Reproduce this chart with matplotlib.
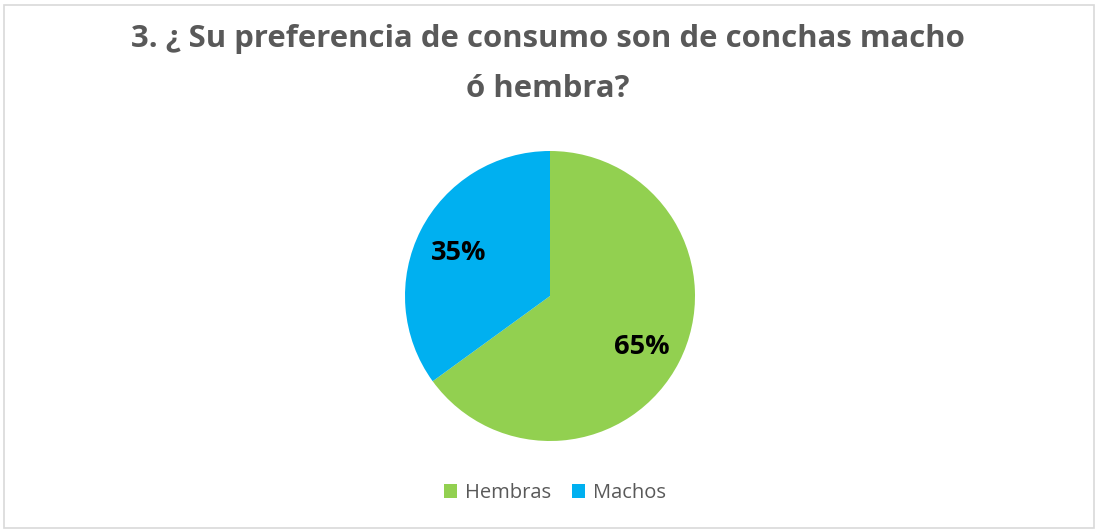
import matplotlib.pyplot as plt
from matplotlib.patches import Rectangle, Patch

categories = ['Hembras', 'Machos']
values = [65, 35]
colors = ['#92D050', '#00B0F0']
title_lines = ['3. ¿ Su preferencia de consumo son de conchas macho', 'ó hembra?']

W, H = 1096, 529
fig = plt.figure(figsize=(W / 100, H / 100), dpi=100)

# outer chart border
fig.patches.append(Rectangle((4 / W, 1 / H), 1090 / W, 523 / H, transform=fig.transFigure,
                             fill=False, edgecolor='#D9D9D9', linewidth=1.2))

for line, base in zip(title_lines, [47, 97]):
    fig.text(0.5, 1 - base / H, line, ha='center', va='baseline', fontsize=22.4,
             fontweight='bold', color='#595959', family='Open Sans')

r = 145
cx, cy = 550, 296
ax = fig.add_axes([(cx - r) / W, (H - cy - r) / H, 2 * r / W, 2 * r / H])
wedges, _, autotexts = ax.pie(values, colors=colors, startangle=90, counterclock=False,
                              autopct='%1.0f%%', pctdistance=0.71, radius=1,
                              wedgeprops=dict(linewidth=0))
for t in autotexts:
    t.set_fontsize(19.5)
    t.set_fontweight('bold')
    t.set_family('Open Sans')
    t.set_color('black')
    x, y = t.get_position()
    t.set_position((x, y - 4 / r))
ax.set_xlim(-1, 1)
ax.set_ylim(-1, 1)
ax.set_aspect('equal')
ax.axis('off')

handles = [Patch(facecolor=c, edgecolor='none') for c in colors]
fig.legend(handles, categories, loc='center', bbox_to_anchor=(555 / W, 1 - 493 / H), ncol=2,
           frameon=False, prop={'family': 'Open Sans', 'size': 14.5}, labelcolor='#595959',
           handlelength=0.65, handleheight=0.65, handletextpad=0.4, columnspacing=1.0)

fig.savefig('out.png', dpi=100)
